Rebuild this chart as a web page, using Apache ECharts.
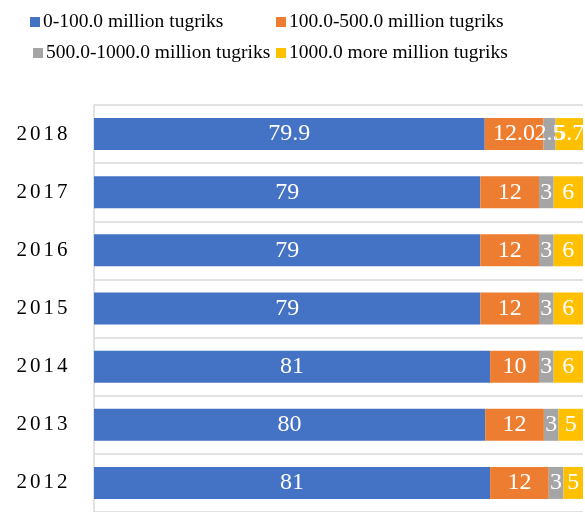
<!DOCTYPE html>
<html>
<head>
<meta charset="utf-8">
<script src="https://cdn.jsdelivr.net/npm/echarts@6/dist/echarts.min.js"></script>
<style>
  html, body { margin: 0; padding: 0; background: #fff; }
  #chart { width: 585px; height: 512px; }
</style>
</head>
<body>
<div id="chart"></div>
<script>
// years, bottom to top
var years = ['2012', '2013', '2014', '2015', '2016', '2017', '2018'];
var seriesNames = ['0-100.0 million tugriks', '100.0-500.0 million tugriks',
                   '500.0-1000.0 million tugriks', '1000.0 more million tugriks'];
var small = [81, 80, 81, 79, 79, 79, 79.9];
var medium = [12, 12, 10, 12, 12, 12, 12.0];
var large = [3, 3, 3, 3, 3, 3, 2.5];
var huge = [5, 5, 6, 6, 6, 6, 5.7];
var colors = ['#4472C4', '#ED7D31', '#A5A5A5', '#FFC000'];

var font = 'Liberation Serif';
var chart = echarts.init(document.getElementById('chart'));

function mkSeries(name, data, color){
    return {
        name: name,
        type: 'bar',
        stack: 'total',
        barWidth: '55%',
        itemStyle: {color: color},
        label: {
            show: true,
            position: 'inside',
            color: '#fff',
            fontFamily: font,
            fontSize: 24,
            formatter: function(p){
                // 2018 values are shown with one decimal
                return p.name === '2018' ? p.value.toFixed(1) : String(p.value);
            }
        },
        data: data
    };
}

function mkLegend(name, left, top){
    return {
        data: [name],
        left: left,
        top: top,
        icon: 'rect',
        itemWidth: 10,
        itemHeight: 10,
        itemGap: 0,
        padding: 0,
        textStyle: {fontFamily: font, fontSize: 19.5, color: '#000', padding: [0, 0, 0, -2]}
    };
}

var option = {
    animation: false,
    color: colors,
    legend: [
        mkLegend(seriesNames[0], 30, 12),
        mkLegend(seriesNames[1], 276, 12),
        mkLegend(seriesNames[2], 33, 43),
        mkLegend(seriesNames[3], 276, 43)
    ],
    grid: {left: 94, right: 2, top: 105, height: 411},
    xAxis: {
        type: 'value',
        min: 0,
        max: 100,
        show: false
    },
    yAxis: {
        type: 'category',
        data: years,
        axisTick: {show: false},
        axisLine: {show: true, lineStyle: {color: '#d9d9d9', width: 1.5}},
        splitLine: {show: true, lineStyle: {color: '#d9d9d9', width: 1.5}},
        axisLabel: {
            margin: 25,
            // spread the digits a little, like the original
            formatter: function(v){
                return v.split('').map(function(c){ return '{d|' + c + '}'; }).join('');
            },
            rich: {
                d: {fontFamily: font, fontSize: 21, color: '#000', padding: [0, 1.5, 0, 1.5]}
            }
        }
    },
    series: [
        mkSeries(seriesNames[0], small, colors[0]),
        mkSeries(seriesNames[1], medium, colors[1]),
        mkSeries(seriesNames[2], large, colors[2]),
        mkSeries(seriesNames[3], huge, colors[3])
    ]
};
chart.setOption(option);
</script>
</body>
</html>
